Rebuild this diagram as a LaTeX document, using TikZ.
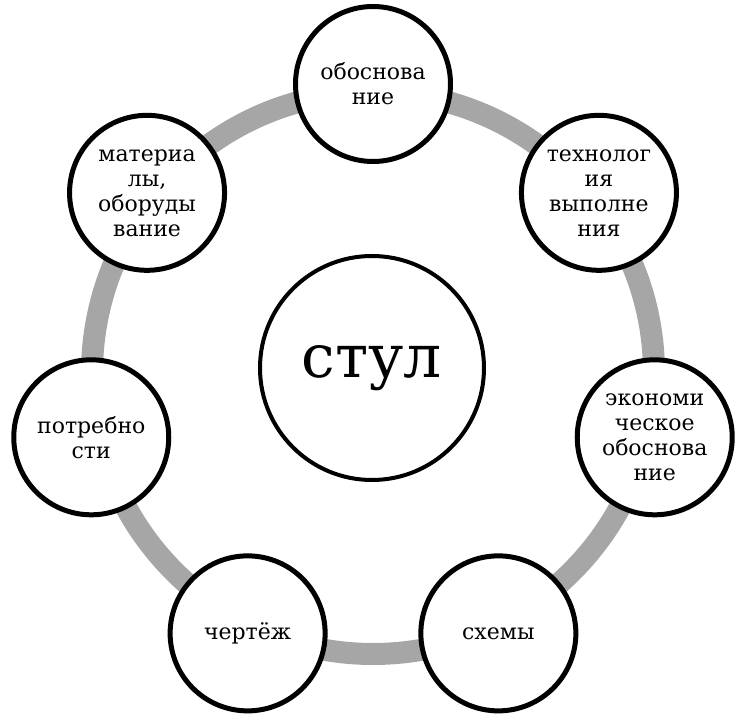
\documentclass[tikz,border=0pt]{standalone}
\usepackage{fontspec}
\setmainfont{DejaVu Serif}
\usetikzlibrary{shadows}
\definecolor{ringgray}{HTML}{A6A6A6}
\begin{document}
\begin{tikzpicture}
		[x=1pt,y=1pt,
		place1/.style={circle,draw=black,fill=white,line width=5pt,
inner sep=0pt,minimum size=155pt,align=center,
font=\fontsize{22}{25}\selectfont,
drop shadow={opacity=0.25,shadow xshift=1.5pt,shadow yshift=-1.5pt}},
		place2/.style={circle,draw=black,fill=white,line width=4pt,
inner sep=0pt,minimum size=224pt,
font=\fontsize{60}{64}\selectfont,
drop shadow={opacity=0.25,shadow xshift=1.5pt,shadow yshift=-1.5pt}},
		ringstyle/.style={draw=ringgray,line width=22pt}]
		\useasboundingbox (-373,-349) rectangle (367,373);
		\coordinate (o) at (0,0);
		\draw [ringstyle] (o) circle (281pt);
		\node at (-1, 5) (chair) [place2] {стул};
		\node at (90:289) (1) [place1] {обоснова\\ние};
		\node at (38.57:289) (2) [place1] {технолог\\ия\\выполне\\ния};
		\node at (-12.86:289) (3) [place1] {экономи\\ческое\\обоснова\\ние};
		\node at (-64.29:289) (4) [place1] {схемы};
		\node at (-115.71:289) (5) [place1] {чертёж};
		\node at (-167.14:289) (6) [place1] {потребно\\сти};
		\node at (141.43:289) (7) [place1] {материа\\лы,\\оборуды\\вание};
	\end{tikzpicture}
\end{document}
